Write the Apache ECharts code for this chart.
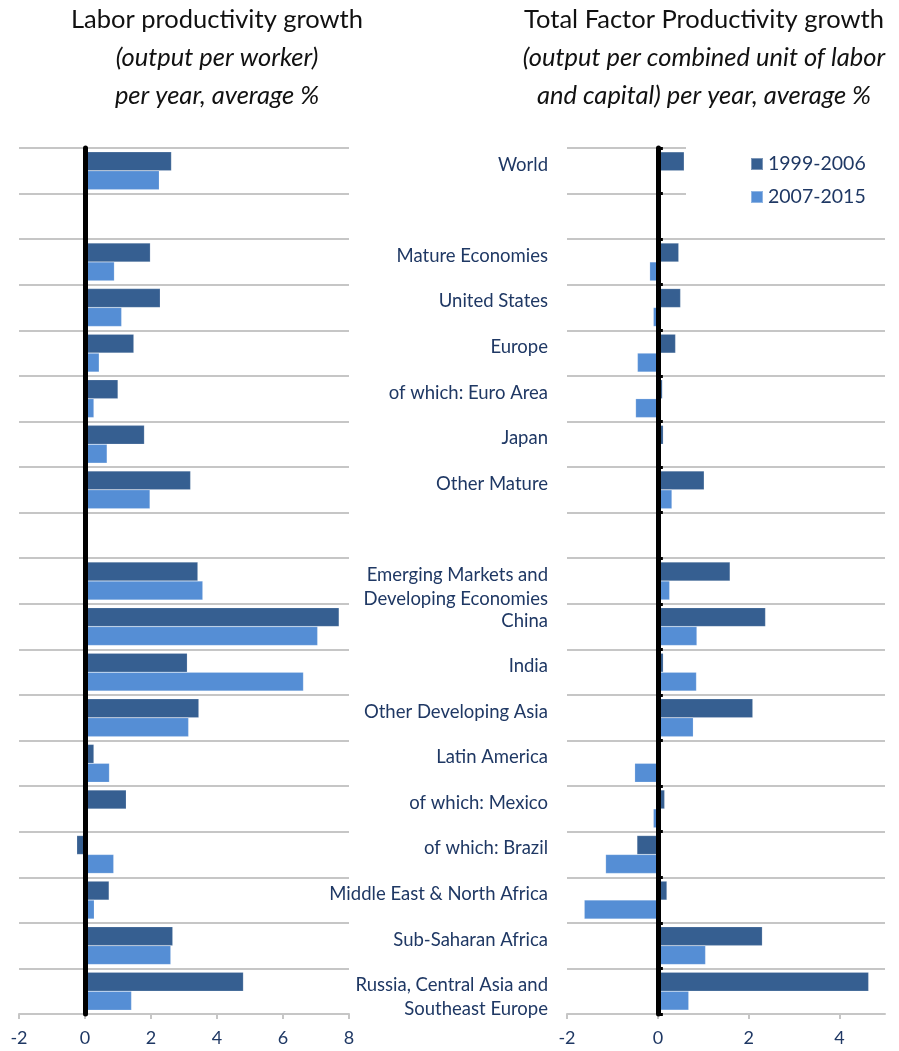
<!DOCTYPE html>
<html>
<head>
<meta charset="utf-8">
<script src="https://cdn.jsdelivr.net/npm/echarts@6/dist/echarts.min.js"></script>
<style>
html,body{margin:0;padding:0;background:#fff;}
#c{width:899px;height:1051px;}
</style>
</head>
<body>
<div id="c"></div>
<script>
const categories = [
  'World', '', 'Mature Economies', 'United States', 'Europe', 'of which: Euro Area',
  'Japan', 'Other Mature', ' ', 'Emerging Markets and\nDeveloping Economies', 'China',
  'India', 'Other Developing Asia', 'Latin America', 'of which: Mexico', 'of which: Brazil',
  'Middle East & North Africa', 'Sub-Saharan Africa', 'Russia, Central Asia and\nSoutheast Europe'
];
const seriesNames = ['1999-2006', '2007-2015'];
const laborEarly = [2.62, null, 1.98, 2.28, 1.48, 1.0, 1.8, 3.2, null, 3.42, 7.7, 3.1, 3.45, 0.27, 1.25, -0.25, 0.73, 2.66, 4.8];
const laborLate  = [2.25, null, 0.89, 1.11, 0.43, 0.27, 0.67, 1.97, null, 3.57, 7.05, 6.62, 3.14, 0.74, 0.0, 0.87, 0.28, 2.6, 1.41];
const tfpEarly = [0.58, null, 0.46, 0.5, 0.39, 0.1, 0.12, 1.02, null, 1.59, 2.37, 0.12, 2.09, 0.0, 0.15, -0.46, 0.2, 2.3, 4.64];
const tfpLate  = [0.0, null, -0.18, -0.1, -0.45, -0.49, 0.0, 0.31, null, 0.26, 0.86, 0.85, 0.78, -0.51, -0.1, -1.15, -1.62, 1.05, 0.68];
const laborTicks = { min: -2, max: 8, interval: 2 };
const tfpTicks = { min: -2, max: 5, interval: 2 };

const FONT = 'Lato';
const TXT = '#1F3864';
const DARK = '#365F91';
const LIGHT = '#558ED5';
const GRIDC = '#C6C6C6';

const chart = echarts.init(document.getElementById('c'), null, {renderer: 'canvas'});

function valueAxis(gi, t) {
  return {
    type: 'value', gridIndex: gi, min: t.min, max: t.max, interval: t.interval,
    axisLine: {show: true, onZero: false, lineStyle: {color: GRIDC, width: 2}},
    axisTick: {show: true, length: 5, lineStyle: {color: GRIDC, width: 2}},
    axisLabel: {color: TXT, fontFamily: FONT, fontSize: 18, margin: 15, showMaxLabel: gi === 0},
    splitLine: {show: false}
  };
}
function catAxis(gi, showLabels) {
  return {
    type: 'category', gridIndex: gi, data: categories, inverse: true,
    axisLine: {show: false, onZero: false}, axisTick: {show: false},
    axisLabel: {show: showLabels, color: TXT, fontFamily: FONT, fontSize: 18.5, margin: 19,
      align: 'right', lineHeight: 24, interval: 0,
      formatter: function (v) {
        if (!v.trim()) return v;
        return v.indexOf('\n') >= 0 ? '{s| }\n' + v : v + '\n{s| }';
      },
      rich: {s: {fontSize: 4, lineHeight: 12}}
    },
    splitLine: {show: true, lineStyle: {color: GRIDC, width: 2}}
  };
}
function zeroAxis(gi, ticks) {
  return {
    type: 'category', gridIndex: gi, data: categories, inverse: true, z: 5,
    axisLine: {show: true, onZero: true, lineStyle: {color: '#000', width: 5}},
    axisTick: {show: ticks, length: 5, lineStyle: {color: '#000', width: 3}},
    axisLabel: {show: false}, splitLine: {show: false}
  };
}
function bar(name, data, xi, yi, color) {
  return {
    name: name, type: 'bar', xAxisIndex: xi, yAxisIndex: yi, data: data,
    barGap: '0%', barCategoryGap: '17%',
    itemStyle: {color: color, borderColor: 'rgba(255,255,255,0.35)', borderWidth: 0.5},
    animation: false
  };
}
const titleRich = {
  n: {fontFamily: FONT, fontSize: 25.5, fontWeight: 'normal', color: '#111', lineHeight: 38, align: 'center'},
  i: {fontFamily: FONT, fontSize: 25.5, fontWeight: 'normal', fontStyle: 'italic', color: '#111', lineHeight: 38, align: 'center'}
};

chart.setOption({
  animation: false,
  backgroundColor: '#fff',
  title: [
    {
      text: '{n|Labor productivity growth}\n{i|(output per worker)}\n{i|per year, average %}',
      left: 212, top: -4, textAlign: 'center',
      textStyle: {fontWeight: 'normal', rich: titleRich}
    },
    {
      text: '{n|Total Factor Productivity growth}\n{i|(output per combined unit of labor}\n{i|and capital) per year, average %}',
      left: 699, top: -4, textAlign: 'center',
      textStyle: {fontWeight: 'normal', rich: titleRich}
    }
  ],
  legend: {
    data: seriesNames, orient: 'vertical', left: 686, top: 141,
    backgroundColor: '#fff', padding: [13, 20, 10, 64], itemGap: 13,
    itemWidth: 12, itemHeight: 12, icon: 'rect',
    textStyle: {color: TXT, fontFamily: FONT, fontSize: 19.5, lineHeight: 20},
    z: 10
  },
  grid: [
    {left: 19, top: 148, width: 330, height: 866, containLabel: false},
    {left: 567, top: 148, width: 318, height: 866, containLabel: false}
  ],
  xAxis: [valueAxis(0, laborTicks), valueAxis(1, tfpTicks)],
  yAxis: [catAxis(0, false), zeroAxis(0, false), catAxis(1, true), zeroAxis(1, true)],
  series: [
    bar(seriesNames[0], laborEarly, 0, 0, DARK),
    bar(seriesNames[1], laborLate, 0, 0, LIGHT),
    bar(seriesNames[0], tfpEarly, 1, 2, DARK),
    bar(seriesNames[1], tfpLate, 1, 2, LIGHT)
  ]
});
</script>
</body>
</html>
